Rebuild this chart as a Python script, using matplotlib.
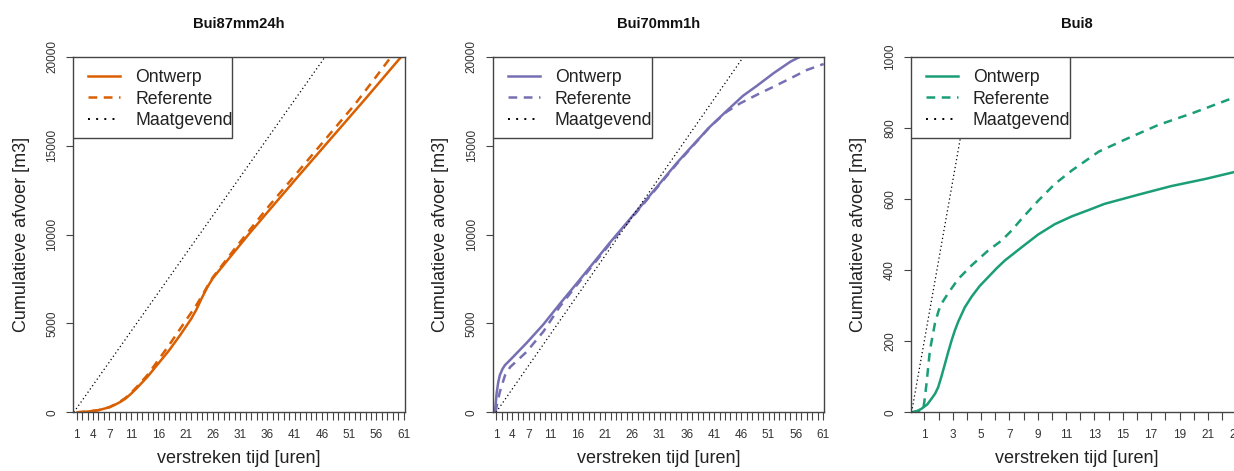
import matplotlib
matplotlib.use("Agg")
import matplotlib.pyplot as plt
from matplotlib.lines import Line2D
from matplotlib.patches import Rectangle

plt.rcParams['font.family'] = ['Liberation Sans', 'DejaVu Sans']

# Bui87mm24h
t_ontwerp_87 = [1, 3, 5, 7, 8, 9, 10, 11, 12, 14, 16, 18, 20, 22, 23, 24, 25, 26, 28, 30,
                32.8, 36, 42, 48, 54, 60, 60.6]
q_ontwerp_87 = [0, 40, 120, 280, 420, 580, 780, 1050, 1350, 2000, 2750, 3500, 4350, 5250,
                5800, 6450, 7050, 7550, 8300, 9050, 10100, 11250, 13400, 15520, 17640, 19800, 20000]
t_referente_87 = [1, 3, 5, 7, 8, 9, 10, 11, 12, 14, 16, 18, 20, 22, 23, 24, 25, 26, 28, 30,
                  33, 36, 40, 44, 48, 52, 56, 58.7]
q_referente_87 = [0, 40, 120, 290, 440, 610, 820, 1100, 1420, 2100, 2950, 3800, 4700, 5600,
                  6050, 6550, 7100, 7600, 8400, 9200, 10350, 11500, 12950, 14400, 15850, 17300,
                  18900, 20000]
t_maatgevend_87 = [0.47, 46.6]
q_maatgevend_87 = [0, 20000]

# Bui70mm1h
t_ontwerp_70 = [0.8, 1.1, 1.4, 1.7, 2.2, 2.65, 3.6, 6.6, 9.7, 12.7, 15.8, 21.9, 28, 34.1,
                36.6, 40.2, 43.3, 46.3, 48.8, 51.9, 55, 56.8]
q_ontwerp_70 = [0, 1070, 1700, 2100, 2450, 2660, 2950, 3900, 4950, 6100, 7250, 9550, 11750,
                14000, 14850, 16050, 16950, 17800, 18350, 19070, 19720, 20000]
t_referente_70 = [0.9, 1.2, 1.7, 2.65, 3.6, 6.6, 9.7, 12.7, 15.8, 21.9, 28, 34.1, 40.2, 43.3,
                  45.8, 48.8, 51.9, 55, 58, 61.1]
q_referente_70 = [0, 500, 1160, 2090, 2550, 3400, 4550, 5950, 7150, 9480, 11700, 13950, 16050,
                  16900, 17380, 17850, 18310, 18780, 19250, 19590]
t_maatgevend_70 = [1, 46.4]
q_maatgevend_70 = [0, 20000]

# Bui8
t_ontwerp_8 = [0.1, 0.5, 0.8, 1.2, 1.5, 1.75, 1.97, 2.2, 2.45, 2.7, 2.92, 3.15, 3.39, 3.85,
               4.33, 4.9, 5.5, 6.1, 6.68, 7.86, 9.03, 10.2, 11.4, 12.6, 13.7, 16.1, 18.4,
               20.8, 22.8, 23.5]
q_ontwerp_8 = [0, 4, 10, 22, 38, 52, 70, 100, 136, 172, 202, 230, 255, 295, 325, 355, 380,
               405, 427, 464, 500, 529, 551, 569, 586, 612, 636, 656, 675, 680]
t_referente_8 = [0.1, 0.8, 0.9, 1.0, 1.15, 1.39, 1.74, 2.0, 2.2, 2.68, 3.39, 4.33, 5.5, 6.45,
                 7.15, 7.86, 9.03, 10.2, 11.4, 13.3, 15.1, 17.5, 19.9, 23.5]
q_referente_8 = [0, 2, 5, 30, 80, 174, 249, 285, 305, 335, 375, 413, 455, 483, 511, 544, 595,
                 642, 680, 733, 766, 808, 841, 895]
t_maatgevend_8 = [0.1, 4.56]
q_maatgevend_8 = [0, 1000]

# assen
xlabels_lang = [1, 4, 7, 11, 16, 21, 26, 31, 36, 41, 46, 51, 56, 61]
xlabels_bui8 = [1, 3, 5, 7, 9, 11, 13, 15, 17, 19, 21, 23]
yticks_groot = [0, 5000, 10000, 15000, 20000]
yticks_klein = [0, 200, 400, 600, 800, 1000]

titels = ["Bui87mm24h", "Bui70mm1h", "Bui8"]
kleuren = ["#D95F02", "#7570B3", "#1B9E77"]

panelen = [
    (t_ontwerp_87, q_ontwerp_87, t_referente_87, q_referente_87, t_maatgevend_87, q_maatgevend_87),
    (t_ontwerp_70, q_ontwerp_70, t_referente_70, q_referente_70, t_maatgevend_70, q_maatgevend_70),
    (t_ontwerp_8, q_ontwerp_8, t_referente_8, q_referente_8, t_maatgevend_8, q_maatgevend_8),
]

W, H = 1234, 471
fig = plt.figure(figsize=(W / 100, H / 100), dpi=100)

lefts = [73.3, 492.7, 910.9]
ax_w = 331.7
ax_top, ax_bot = 56.7, 412.3
ax_h = ax_bot - ax_top
randkleur = "#444444"
tekstkleur = "#333333"

for i in range(3):
    ax = fig.add_axes([lefts[i] / W, (H - ax_bot) / H, ax_w / W, ax_h / H])
    t_o, q_o, t_r, q_r, t_m, q_m = panelen[i]
    kleur = kleuren[i]

    ax.plot(t_o, q_o, color=kleur, lw=1.8, solid_capstyle='butt')
    ax.plot(t_r, q_r, color=kleur, lw=1.8, dashes=(3.5, 2.6))
    ax.plot(t_m, q_m, color='black', lw=0.9, dashes=(1.0, 2.2))

    if i < 2:
        ax.set_xlim(0.38, 61.24)
        ax.set_ylim(0, 20000)
        ax.set_xticks(range(1, 62))
        ax.set_xticklabels([str(v) if v in xlabels_lang else '' for v in range(1, 62)])
        ax.set_yticks(yticks_groot)
        ax.set_yticklabels([str(v) for v in yticks_groot])
    else:
        ax.set_xlim(0.05, 23.45)
        ax.set_ylim(0, 1000)
        ax.set_xticks(range(1, 24))
        ax.set_xticklabels([str(v) if v in xlabels_bui8 else '' for v in range(1, 24)])
        ax.set_yticks(yticks_klein)
        ax.set_yticklabels([str(v) for v in yticks_klein])

    for s in ax.spines.values():
        s.set_color(randkleur)
        s.set_linewidth(1.0)

    ax.tick_params(axis='x', length=5.5, width=0.8, color=randkleur, pad=6.7,
                   labelsize=8.5, labelcolor=tekstkleur)
    ax.tick_params(axis='y', length=5.0, width=0.8, color=randkleur, pad=5.7,
                   labelsize=8.5, labelcolor=tekstkleur, labelrotation=90)
    for lab in ax.get_yticklabels():
        lab.set_va('center')

    ax.set_xlabel("verstreken tijd [uren]", fontsize=13, color='#222222')
    ax.xaxis.set_label_coords(0.5, -0.1063)
    ax.set_ylabel("Cumulatieve afvoer [m3]", fontsize=13, color='#222222')
    ax.yaxis.set_label_coords(-0.132, 0.5)

    ax.text(0.5, 1 + (ax_top - 24) / ax_h, titels[i], transform=ax.transAxes,
            ha='center', va='center', fontsize=10.6, fontweight='bold', color='#111111')

    # legendakader zoals in R: tekst raakt de rechterrand
    kader = Rectangle((0, 1 - 81.6 / ax_h), 159 / ax_w, 81.6 / ax_h, transform=ax.transAxes,
                      facecolor='white', edgecolor=randkleur, lw=1.0, zorder=4)
    ax.add_patch(kader)
    handles = [
        Line2D([], [], color=kleur, lw=1.8),
        Line2D([], [], color=kleur, lw=1.8, dashes=(3.5, 2.6)),
        Line2D([], [], color='black', lw=1.4, dashes=(1.0, 3.2)),
    ]
    leg = ax.legend(handles, ["Ontwerp", "Referente", "Maatgevend"], loc='upper left',
                    bbox_to_anchor=(15 / ax_w, 1 - 12.5 / ax_h), borderaxespad=0, borderpad=0,
                    fontsize=12.7, handlelength=1.82, handletextpad=0.85, labelspacing=0.25,
                    frameon=False)
    leg.set_zorder(5)
    for txt in leg.get_texts():
        txt.set_color('#222222')

fig.savefig("out.png", dpi=100)
